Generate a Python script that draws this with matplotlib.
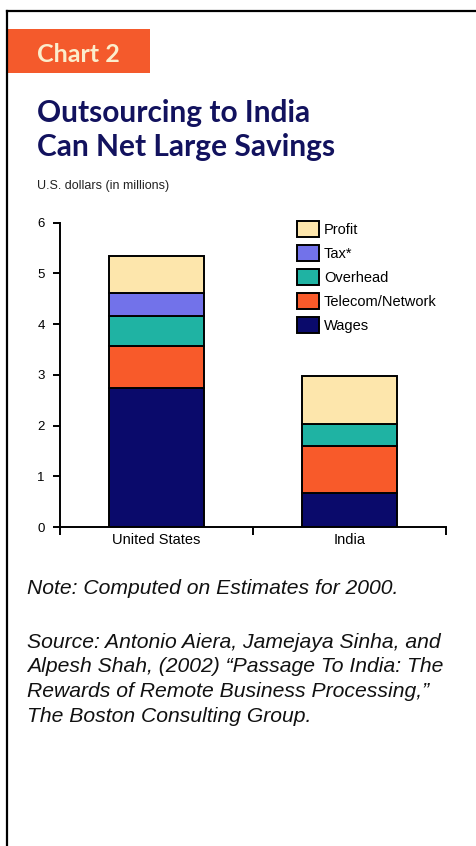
import matplotlib.pyplot as plt
from matplotlib.patches import Rectangle
from matplotlib.lines import Line2D

W, H = 476, 846

countries = ["United States", "India"]
segments = ["Wages", "Telecom/Network", "Overhead", "Tax*", "Profit"]
wages = [2.74, 0.67]
telecom = [0.83, 0.92]
overhead = [0.60, 0.45]
tax = [0.44, 0.0]
profit = [0.74, 0.93]
yticks = [0, 1, 2, 3, 4, 5, 6]

colors = ["#0a0a6b", "#f85a2a", "#1fb3a3", "#7272ea", "#fde6ac"]
narrow = ["Liberation Sans", "DejaVu Sans"]

fig = plt.figure(figsize=(W / 100, H / 100), dpi=100, facecolor="white")

def px(x, y):
    return x / W, 1 - y / H

# frame lines (top + left only)
fig.add_artist(Line2D([7 / W, 1], [1 - 11 / H, 1 - 11 / H], color="black", lw=1.6))
fig.add_artist(Line2D([7 / W, 7 / W], [0, 1 - 11 / H], color="black", lw=1.6))

# banner
fig.add_artist(Rectangle(px(8, 73), 142 / W, 44 / H, transform=fig.transFigure,
                         facecolor="#f45a2c", edgecolor="none"))
fig.text(*px(37, 62), "Chart 2", color="#fbedcc", fontsize=18, fontweight="bold",
         family="Lato", va="baseline", ha="left")

fig.text(*px(37, 122), "Outsourcing to India", color="#12125e", fontsize=21.5,
         fontweight="bold", family="Lato", va="baseline")
fig.text(*px(37, 156), "Can Net Large Savings", color="#12125e", fontsize=21.5,
         fontweight="bold", family="Lato", va="baseline")
fig.text(*px(37, 189), "U.S. dollars (in millions)", color="#222222", fontsize=9,
         family=narrow, va="baseline")

# chart
ax = fig.add_axes([60 / W, (H - 527) / H, (446 - 60) / W, (527 - 222.7) / H])
x = [0.5, 1.5]
bottom = [0, 0]
bars = []
for name, vals, c in zip(segments, [wages, telecom, overhead, tax, profit], colors):
    b = ax.bar(x, vals, width=0.49, bottom=bottom, color=c, edgecolor="black",
               linewidth=1.4, label=name)
    bars.append(b)
    bottom = [bt + v for bt, v in zip(bottom, vals)]

ax.set_xlim(0, 2)
ax.set_ylim(0, 6)
ax.set_yticks(yticks)
ax.set_yticklabels([str(t) for t in yticks], family=narrow, fontsize=9.5)
ax.set_xticks([0, 1, 2])
ax.set_xticklabels([])
ax.set_xticks(x, minor=True)
ax.set_xticklabels(countries, minor=True, family=narrow, fontsize=10.5)
ax.tick_params(axis="y", length=5, width=1.4, pad=6)
ax.tick_params(axis="x", which="major", length=6, width=1.4)
ax.tick_params(axis="x", which="minor", length=0, pad=4)
for s in ["top", "right"]:
    ax.spines[s].set_visible(False)
for s in ["left", "bottom"]:
    ax.spines[s].set_linewidth(1.4)

handles = [b.patches[0] for b in bars][::-1]
labels = segments[::-1]
leg = ax.legend(handles, labels, loc="upper left",
                bbox_to_anchor=(297 / W, 1 - 221 / H), bbox_transform=fig.transFigure,
                frameon=False, prop={"family": narrow, "size": 10.5},
                handlelength=1.5, handleheight=1.3, labelspacing=0.56,
                handletextpad=0.35, borderpad=0, borderaxespad=0)

# notes
note_kw = dict(fontsize=15.2, style="italic", family="Liberation Sans", color="#111111",
               va="baseline")
fig.text(*px(27, 594), "Note: Computed on Estimates for 2000.", **note_kw)
src = ["Source: Antonio Aiera, Jamejaya Sinha, and",
       "Alpesh Shah, (2002) \u201cPassage To India: The",
       "Rewards of Remote Business Processing,\u201d",
       "The Boston Consulting Group."]
for i, line in enumerate(src):
    fig.text(*px(27, 648 + i * 24.5), line, **note_kw)

fig.savefig("out.png", dpi=100, facecolor="white")
